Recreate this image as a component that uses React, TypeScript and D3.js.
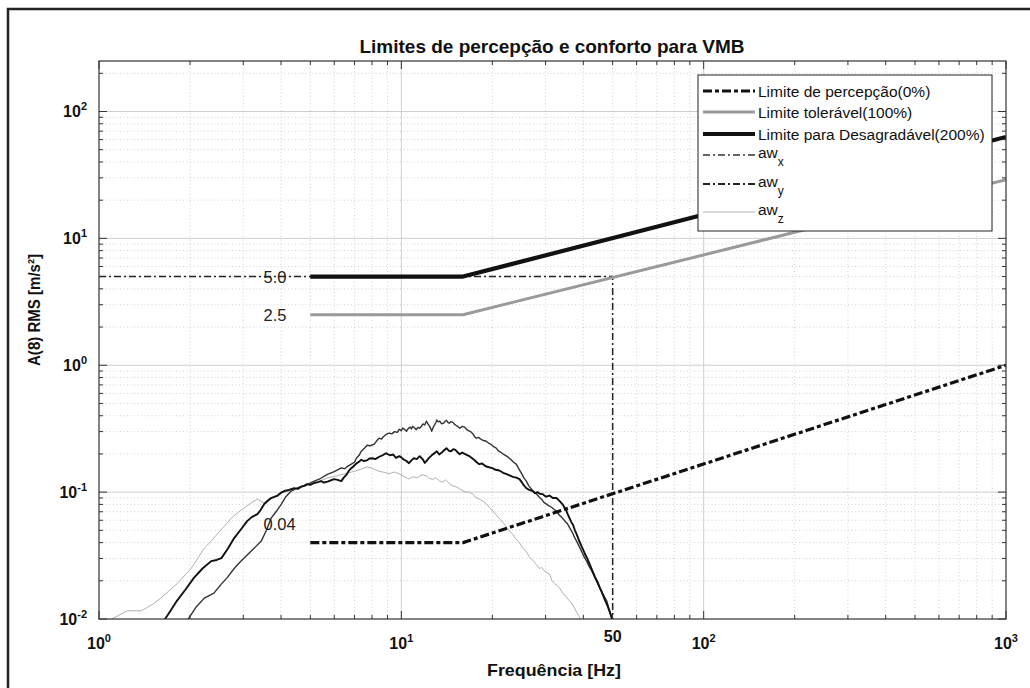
import React from "react"
import * as d3 from "d3"

// axis ranges and tick labels
const freqDomain = [1, 1000]
const accDomain = [0.01, 250]
const freqMajor = [1, 10, 100, 1000]
const freqExp = ["0", "1", "2", "3"]
const accMajor = [0.01, 0.1, 1, 10, 100]
const accExp = ["-2", "-1", "0", "1", "2"]

// limit curves [Hz, m/s²]
const perceptionLimit = [[5, 0.04], [16, 0.04], [1000, 1]]
const tolerableLimit = [[5, 2.5], [16, 2.5], [1000, 29]]
const unpleasantLimit = [[5, 5], [16, 5], [1000, 63]]
const referenceLine = [[1, 5], [50, 5], [50, 0.01]]

const awX = [
  [1.956, 0.0097], [2.1, 0.0125], [2.23, 0.0146], [2.4, 0.016], [2.52, 0.0185], [2.65, 0.0211],
  [2.8, 0.025], [2.95, 0.0286], [3.19, 0.0343], [3.44, 0.0411], [3.58, 0.05], [3.71, 0.0624],
  [3.85, 0.07], [4.01, 0.0805], [4.15, 0.092], [4.32, 0.102], [4.5, 0.107], [4.67, 0.111],
  [4.9, 0.115], [5.15, 0.122], [5.4, 0.128], [5.69, 0.138], [6.0, 0.145], [6.15, 0.15],
  [6.33, 0.155], [6.5, 0.153], [6.6, 0.158], [6.83, 0.166], [7.0, 0.172], [7.1, 0.185],
  [7.25, 0.195], [7.37, 0.21], [7.55, 0.222], [7.71, 0.234], [7.9, 0.232], [8.14, 0.239],
  [8.3, 0.255], [8.45, 0.266], [8.6, 0.262], [8.7, 0.272], [8.9, 0.285], [9.13, 0.292],
  [9.3, 0.288], [9.5, 0.3], [9.7, 0.296], [9.85, 0.313], [10.0, 0.305], [10.1, 0.32],
  [10.25, 0.312], [10.4, 0.302], [10.55, 0.318], [10.7, 0.325], [10.8, 0.315], [10.9, 0.331],
  [11.05, 0.322], [11.2, 0.31], [11.35, 0.324], [11.5, 0.319], [11.65, 0.33], [11.8, 0.345],
  [11.95, 0.338], [12.1, 0.362], [12.25, 0.345], [12.4, 0.33], [12.5, 0.318], [12.6, 0.302],
  [12.75, 0.325], [12.9, 0.34], [13.0, 0.352], [13.1, 0.37], [13.25, 0.358], [13.4, 0.362],
  [13.6, 0.345], [13.8, 0.35], [13.95, 0.362], [14.1, 0.368], [14.25, 0.355], [14.4, 0.349],
  [14.6, 0.36], [14.8, 0.355], [15.0, 0.342], [15.2, 0.335], [15.4, 0.328], [15.6, 0.319],
  [15.9, 0.33], [16.2, 0.325], [16.5, 0.31], [16.8, 0.302], [17.0, 0.298], [17.2, 0.29],
  [17.45, 0.275], [17.7, 0.266], [18.0, 0.27], [18.3, 0.262], [18.7, 0.255], [19.1, 0.252],
  [19.5, 0.242], [19.8, 0.238], [20.2, 0.228], [20.6, 0.222], [21.0, 0.21], [21.4, 0.205],
  [21.8, 0.198], [22.3, 0.192], [22.7, 0.186], [23.1, 0.18], [23.5, 0.172], [24.0, 0.166],
  [24.5, 0.152], [25.0, 0.14], [25.4, 0.13], [25.9, 0.122], [26.4, 0.112], [27.0, 0.105],
  [27.5, 0.1], [28.0, 0.0965], [28.5, 0.092], [29.1, 0.088], [29.6, 0.083], [30.2, 0.0805],
  [30.8, 0.078], [31.4, 0.076], [32.0, 0.073], [32.6, 0.0708], [33.3, 0.066], [34.1, 0.0624],
  [34.8, 0.059], [35.5, 0.056], [36.1, 0.052], [36.8, 0.048], [37.4, 0.044], [38.0, 0.0411],
  [38.8, 0.037], [39.5, 0.034], [40.2, 0.031], [41.0, 0.0286], [41.8, 0.026], [42.6, 0.024],
  [43.4, 0.0218], [44.2, 0.0199], [45.1, 0.018], [46.0, 0.0165], [46.9, 0.015], [47.8, 0.0139],
  [48.4, 0.0125], [49.0, 0.0115], [49.5, 0.0105], [50, 0.0097],
]
const awY = [
  [1.64, 0.0097], [1.72, 0.0115], [1.81, 0.0139], [1.93, 0.017], [2.06, 0.0211], [2.2, 0.025],
  [2.35, 0.0286], [2.45, 0.0292], [2.54, 0.0302], [2.67, 0.036], [2.8, 0.0434], [2.95, 0.051],
  [3.09, 0.0591], [3.2, 0.0635], [3.34, 0.0671], [3.42, 0.072], [3.52, 0.0805], [3.61, 0.085],
  [3.71, 0.0898], [3.9, 0.094], [4.0, 0.099], [4.1, 0.102], [4.25, 0.104], [4.42, 0.1075],
  [4.55, 0.106], [4.65, 0.11], [4.78, 0.112], [4.88, 0.1157], [5.0, 0.114], [5.15, 0.118],
  [5.3, 0.12], [5.43, 0.122], [5.55, 0.119], [5.7, 0.121], [5.85, 0.124], [6.0, 0.1265],
  [6.15, 0.125], [6.33, 0.122], [6.45, 0.13], [6.6, 0.138], [6.7, 0.147], [6.83, 0.1545],
  [6.95, 0.16], [7.1, 0.168], [7.25, 0.174], [7.37, 0.18], [7.5, 0.176], [7.7, 0.178],
  [7.85, 0.184], [8.02, 0.185], [8.2, 0.182], [8.45, 0.19], [8.7, 0.196], [8.92, 0.2027],
  [9.15, 0.195], [9.4, 0.198], [9.6, 0.186], [9.85, 0.192], [10.0, 0.188], [10.2, 0.18],
  [10.4, 0.176], [10.6, 0.169], [10.8, 0.178], [11.0, 0.185], [11.25, 0.182], [11.5, 0.192],
  [11.65, 0.186], [11.8, 0.18], [11.95, 0.17], [12.1, 0.1753], [12.35, 0.186], [12.6, 0.195],
  [12.85, 0.202], [13.1, 0.21], [13.35, 0.198], [13.6, 0.205], [13.85, 0.214], [14.1, 0.222],
  [14.35, 0.212], [14.6, 0.21], [14.85, 0.218], [15.1, 0.215], [15.35, 0.206], [15.6, 0.199],
  [15.9, 0.205], [16.2, 0.2], [16.5, 0.196], [16.8, 0.192], [17.1, 0.186], [17.4, 0.18],
  [17.75, 0.172], [18.1, 0.166], [18.5, 0.168], [19.0, 0.16], [19.5, 0.157], [20.0, 0.1545],
  [20.5, 0.15], [21.1, 0.148], [21.7, 0.142], [22.3, 0.1385], [22.9, 0.135], [23.4, 0.132],
  [24.0, 0.13], [24.6, 0.1265], [25.0, 0.12], [25.3, 0.115], [25.6, 0.111], [25.9, 0.1075],
  [26.5, 0.104], [27.2, 0.1019], [27.7, 0.098], [28.2, 0.1], [28.7, 0.097], [29.3, 0.0965],
  [30.1, 0.092], [30.9, 0.094], [31.7, 0.09], [32.6, 0.0898], [33.4, 0.085], [34.1, 0.0805],
  [34.6, 0.076], [35.1, 0.072], [35.5, 0.067], [36.0, 0.0624], [36.5, 0.058], [37.0, 0.055],
  [37.5, 0.05], [38.0, 0.0467], [38.8, 0.041], [39.7, 0.0362], [40.4, 0.033], [41.2, 0.03],
  [42.0, 0.027], [42.9, 0.0239], [43.7, 0.0215], [44.6, 0.0195], [45.4, 0.0175], [46.3, 0.0157],
  [47.2, 0.014], [48.2, 0.0125], [49.1, 0.011], [50, 0.0097],
]
const awZ = [
  [1.1, 0.01], [1.24, 0.0116], [1.38, 0.0116], [1.5, 0.013], [1.6, 0.0146], [1.81, 0.0189],
  [2.02, 0.0252], [2.12, 0.03], [2.23, 0.0362], [2.35, 0.041], [2.46, 0.0467], [2.6, 0.054],
  [2.74, 0.0624], [2.88, 0.069], [3.02, 0.0748], [3.18, 0.082], [3.34, 0.088], [3.52, 0.082],
  [3.65, 0.089], [3.8, 0.093], [4.1, 0.1], [4.42, 0.106], [4.7, 0.11], [5.04, 0.116],
  [5.35, 0.122], [5.69, 0.129], [6.1, 0.134], [6.62, 0.141], [7.0, 0.146], [7.37, 0.152],
  [7.7, 0.158], [7.96, 0.155], [8.2, 0.15], [8.45, 0.146], [8.8, 0.143], [9.1, 0.14],
  [9.5, 0.144], [9.85, 0.139], [10.2, 0.133], [10.4, 0.13], [10.6, 0.127], [10.9, 0.132],
  [11.3, 0.13], [11.7, 0.137], [12.1, 0.134], [12.4, 0.128], [12.7, 0.126], [13.0, 0.13],
  [13.4, 0.122], [13.7, 0.12], [14.0, 0.125], [14.4, 0.117], [14.8, 0.112], [15.2, 0.11],
  [15.6, 0.106], [16.0, 0.102], [16.4, 0.1], [16.8, 0.1], [17.2, 0.097], [17.6, 0.091],
  [18.1, 0.088], [18.6, 0.085], [19.1, 0.081], [19.6, 0.075], [20.1, 0.071], [20.6, 0.066],
  [21.1, 0.062], [21.6, 0.058], [22.2, 0.054], [22.7, 0.05], [23.3, 0.047], [23.9, 0.043],
  [24.6, 0.04], [25.2, 0.036], [25.9, 0.034], [26.5, 0.031], [27.2, 0.029], [27.9, 0.027],
  [28.6, 0.025], [29.1, 0.0255], [29.7, 0.024], [30.3, 0.0232], [30.9, 0.0226], [31.5, 0.02],
  [32.1, 0.019], [32.8, 0.0183], [33.4, 0.0175], [34.2, 0.016], [35.0, 0.015], [35.9, 0.014],
  [36.8, 0.0131], [37.4, 0.0122], [38.0, 0.0113], [38.7, 0.0105], [39.4, 0.0097],
]

const legendNames = [
  "Limite de percepção(0%)",
  "Limite tolerável(100%)",
  "Limite para Desagradável(200%)",
]
const legendSubs = ["x", "y", "z"]

const W = 1030
const H = 688
const plot = { left: 99, right: 1006, top: 61, bottom: 619 }
const boldFont = "'Liberation Sans Narrow', 'Liberation Sans', Arial, sans-serif"
const plainFont = "'Liberation Sans', Arial, sans-serif"

export default function App() {
  const x = d3.scaleLog().domain(freqDomain).range([plot.left, plot.right])
  const y = d3.scaleLog().domain(accDomain).range([plot.bottom, plot.top])
  const line = d3.line<number[]>().x(d => x(d[0])).y(d => y(d[1]))

  const xMinor = x.ticks().filter(t => !freqMajor.includes(t))
  const yMinor = y.ticks().filter(t => !accMajor.includes(t) && t <= accDomain[1])

  const dashDot = "7 3 2 3"
  const thickDashDot = "9 3 4 3"

  // legend styles, same order as the drawn series
  const legendStyles = [
    { stroke: "#111", width: 3.2, dash: thickDashDot },
    { stroke: "#9a9a9a", width: 3, dash: null },
    { stroke: "#111", width: 4.2, dash: null },
    { stroke: "#333", width: 1.4, dash: dashDot },
    { stroke: "#222", width: 1.8, dash: dashDot },
    { stroke: "#b0b0b0", width: 1, dash: null },
  ]
  const legendY = [91, 112, 134, 155, 184, 212]

  return (
    <svg width={W} height={H} style={{ position: "absolute", left: 0, top: 0, background: "#fff" }}>
      <defs>
        <clipPath id="plotClip">
          <rect x={plot.left} y={plot.top} width={plot.right - plot.left} height={plot.bottom - plot.top} />
        </clipPath>
      </defs>

      {/* outer frame */}
      <rect x={8} y={9} width={W + 20} height={H + 20} fill="none" stroke="#222" strokeWidth={2.5} />

      {/* grid */}
      <g>
        {xMinor.map(t => (
          <line key={"xm" + t} x1={x(t)} x2={x(t)} y1={plot.top} y2={plot.bottom}
            stroke="#c8c8c8" strokeWidth={0.8} strokeDasharray="1 2.5" />
        ))}
        {yMinor.map(t => (
          <line key={"ym" + t} x1={plot.left} x2={plot.right} y1={y(t)} y2={y(t)}
            stroke="#c8c8c8" strokeWidth={0.8} strokeDasharray="1 2.5" />
        ))}
        {freqMajor.slice(1, -1).map(t => (
          <line key={"xM" + t} x1={x(t)} x2={x(t)} y1={plot.top} y2={plot.bottom} stroke="#cfcfcf" strokeWidth={1} />
        ))}
        {accMajor.slice(1).map(t => (
          <line key={"yM" + t} x1={plot.left} x2={plot.right} y1={y(t)} y2={y(t)} stroke="#cfcfcf" strokeWidth={1} />
        ))}
      </g>

      <g clipPath="url(#plotClip)" fill="none" strokeLinejoin="round">
        <path d={line(awZ)} stroke="#b0b0b0" strokeWidth={1} />
        <path d={line(awX)} stroke="#333" strokeWidth={1.4} />
        <path d={line(awY)} stroke="#111" strokeWidth={1.9} />
        <path d={line(referenceLine)} stroke="#222" strokeWidth={1.5} strokeDasharray={dashDot} />
        <path d={line(perceptionLimit)} stroke="#111" strokeWidth={3.2} strokeDasharray={thickDashDot} />
        <path d={line(tolerableLimit)} stroke="#9a9a9a" strokeWidth={3} />
        <path d={line(unpleasantLimit)} stroke="#111" strokeWidth={4.2} />
      </g>

      {/* value notes */}
      <g fontFamily={plainFont} fontSize={16.5} fill="#222">
        <text x={x(3.5)} y={y(5) + 6}>5.0</text>
        <text x={x(3.5)} y={y(2.5) + 6}>2.5</text>
        <text x={x(3.5)} y={y(0.056) + 6}>0.04</text>
      </g>

      {/* axes box and ticks */}
      <rect x={plot.left} y={plot.top} width={plot.right - plot.left} height={plot.bottom - plot.top}
        fill="none" stroke="#333" strokeWidth={1.2} />
      <g stroke="#333" strokeWidth={1}>
        {xMinor.map(t => (
          <g key={"xt" + t}>
            <line x1={x(t)} x2={x(t)} y1={plot.bottom} y2={plot.bottom - 4} />
            <line x1={x(t)} x2={x(t)} y1={plot.top} y2={plot.top + 4} />
          </g>
        ))}
        {freqMajor.map(t => (
          <g key={"xT" + t}>
            <line x1={x(t)} x2={x(t)} y1={plot.bottom} y2={plot.bottom - 8} />
            <line x1={x(t)} x2={x(t)} y1={plot.top} y2={plot.top + 8} />
          </g>
        ))}
        {yMinor.map(t => (
          <g key={"yt" + t}>
            <line x1={plot.left} x2={plot.left + 4} y1={y(t)} y2={y(t)} />
            <line x1={plot.right} x2={plot.right - 4} y1={y(t)} y2={y(t)} />
          </g>
        ))}
        {accMajor.map(t => (
          <g key={"yT" + t}>
            <line x1={plot.left} x2={plot.left + 8} y1={y(t)} y2={y(t)} />
            <line x1={plot.right} x2={plot.right - 8} y1={y(t)} y2={y(t)} />
          </g>
        ))}
      </g>

      {/* tick labels */}
      <g fontFamily={boldFont} fontWeight="bold" fontSize={16} fill="#111">
        {freqMajor.map((t, i) => (
          <text key={"xl" + t} x={x(t)} y={plot.bottom + 30} textAnchor="middle">
            10<tspan dy={-7} fontSize={11}>{freqExp[i]}</tspan>
          </text>
        ))}
        <text x={x(50)} y={plot.bottom + 23} textAnchor="middle">50</text>
        {accMajor.map((t, i) => (
          <text key={"yl" + t} x={plot.left - 12} y={y(t) + 6} textAnchor="end">
            10<tspan dy={-7} fontSize={11}>{accExp[i]}</tspan>
          </text>
        ))}
      </g>

      {/* title and axis labels */}
      <text x={552} y={53} textAnchor="middle" fontFamily={boldFont} fontWeight="bold" fontSize={19}
        textLength={385} lengthAdjust="spacingAndGlyphs" fill="#111">
        Limites de percepção e conforto para VMB
      </text>
      <text x={554} y={676} textAnchor="middle" fontFamily={boldFont} fontWeight="bold" fontSize={17}
        textLength={134} lengthAdjust="spacingAndGlyphs" fill="#111">
        Frequência [Hz]
      </text>
      <text transform="translate(40,310) rotate(-90)" textAnchor="middle" fontFamily={boldFont}
        fontWeight="bold" fontSize={16} textLength={112} lengthAdjust="spacingAndGlyphs" fill="#111">
        A(8) RMS [m/s²]
      </text>

      {/* legend */}
      <g>
        <rect x={698} y={75} width={294} height={156} fill="#fff" stroke="#222" strokeWidth={1} />
        {legendStyles.map((s, i) => (
          <line key={"lg" + i} x1={703} x2={755} y1={legendY[i]} y2={legendY[i]}
            stroke={s.stroke} strokeWidth={s.width} strokeDasharray={s.dash || undefined} />
        ))}
        <g fontFamily={plainFont} fontSize={15.5} fill="#111">
          {legendNames.map((n, i) => (
            <text key={"ln" + i} x={758} y={legendY[i] + 5.5}>{n}</text>
          ))}
          {legendSubs.map((s, i) => (
            <text key={"ls" + i} x={758} y={legendY[i + 3] + 3}>
              aw<tspan dy={8} fontSize={12}>{s}</tspan>
            </text>
          ))}
        </g>
      </g>
    </svg>
  )
}
